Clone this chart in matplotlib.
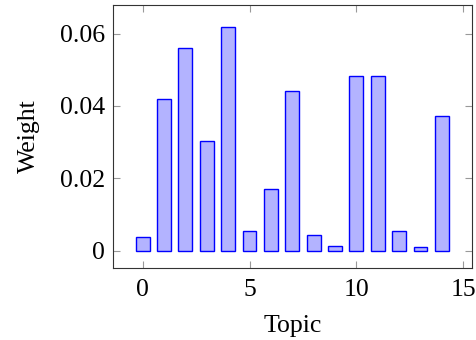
import matplotlib
matplotlib.use('Agg')
import matplotlib.pyplot as plt
import numpy as np

topics = list(range(15))
weights = [0.0038, 0.0419, 0.0560, 0.0302, 0.0618, 0.0055, 0.0171, 0.0440,
           0.0042, 0.0014, 0.0482, 0.0483, 0.0053, 0.0011, 0.0371]

plt.rcParams['font.family'] = ['Liberation Serif', 'DejaVu Serif']

fig = plt.figure(figsize=(4.77, 3.40), dpi=100)
ax = fig.add_axes([113/477, 1-268/340, (472-113)/477, (268-5)/340])

ax.bar(topics, weights, width=0.65, color=(0.7, 0.7, 1.0), edgecolor='blue', linewidth=1.0)

ax.set_xlim(-1.39, 15.41)
ax.set_ylim(-0.0048, 0.0679)
ax.set_xticks([0, 5, 10, 15])
ax.set_xticklabels(['0', '5', '10', '15'])
ax.set_yticks([0, 0.02, 0.04, 0.06])
ax.set_yticklabels(['0', '0.02', '0.04', '0.06'])

ax.tick_params(direction='in', length=5, width=0.8, color='#999999',
               top=True, right=True, labelsize=18.5, pad=6)
ax.tick_params(axis='x', pad=8)
for s in ax.spines.values():
    s.set_linewidth(0.8)
    s.set_color('#333333')

ax.set_xlabel('Topic', fontsize=18.5, labelpad=10)
ax.set_ylabel('Weight', fontsize=18.5, labelpad=14)

fig.savefig('out.png', dpi=100)
